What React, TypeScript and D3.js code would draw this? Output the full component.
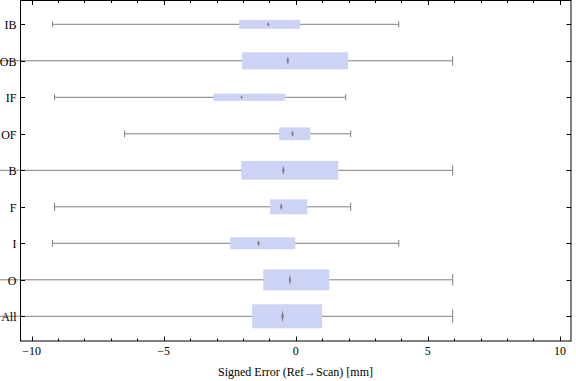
import React from "react";
import * as d3 from "d3";

const categories = ["IB", "OB", "IF", "OF", "B", "F", "I", "O", "All"];
const whiskerLow = [-9.21, -12, -9.13, -6.48, -12, -9.13, -9.21, -12, -12];
const q1 = [-2.14, -2.03, -3.12, -0.63, -2.06, -0.97, -2.48, -1.23, -1.65];
const median = [-1.04, -0.3, -2.05, -0.12, -0.47, -0.55, -1.41, -0.22, -0.5];
const q3 = [0.17, 1.98, -0.4, 0.55, 1.61, 0.44, -0.02, 1.27, 1.0];
const whiskerHigh = [3.9, 5.94, 1.89, 2.08, 5.94, 2.08, 3.9, 5.94, 5.94];
// relative box thickness (sample weight)
const boxWeight = [0.37, 0.71, 0.3, 0.53, 0.78, 0.62, 0.5, 0.87, 1.0];
const xTicks = [-10, -5, 0, 5, 10];
const xMinorTicks = d3.range(-10, 11, 1);

const W = 576;
const H = 381;
const left = 20.5;
const right = 571;
const top = 0.5;
const bottom = 341;

export default function App() {
  const x = d3.scaleLinear().domain([-10.42, 10.42]).range([left, right]);
  const y = d3.scalePoint<string>().domain(categories).range([24.3, 316.3]);
  const thick = d3.scaleLinear().domain([0, 1]).range([0, 24]);
  const fmt = d3.format("d");
  const font = "'Liberation Serif', 'Times New Roman', serif";

  return (
    <svg
      width={W}
      height={H}
      style={{ position: "absolute", left: 0, top: 0, background: "#fff" }}
      fontFamily={font}
    >
      {categories.map((c, i) => {
        const cy = y(c)!;
        const h = thick(boxWeight[i]);
        const cap = Math.max(6, h * 0.55);
        const mx = x(median[i]);
        const mh = h * 0.5;
        return (
          <g key={c}>
            <line x1={x(whiskerLow[i])} x2={x(whiskerHigh[i])} y1={cy} y2={cy} stroke="#808080" strokeWidth={1} />
            {whiskerLow[i] > -10.42 && (
              <line x1={x(whiskerLow[i])} x2={x(whiskerLow[i])} y1={cy - cap / 2} y2={cy + cap / 2} stroke="#808080" strokeWidth={1} />
            )}
            <line x1={x(whiskerHigh[i])} x2={x(whiskerHigh[i])} y1={cy - cap / 2} y2={cy + cap / 2} stroke="#808080" strokeWidth={1} />
            <rect x={x(q1[i])} width={x(q3[i]) - x(q1[i])} y={cy - h / 2} height={h} fill="#ccd3f4" />
            <path
              d={`M${mx},${cy - mh / 2}L${mx + 1.2},${cy}L${mx},${cy + mh / 2}L${mx - 1.2},${cy}Z`}
              fill="#707070"
              opacity={0.85}
            />
          </g>
        );
      })}
      <rect x={left} y={top} width={right - left} height={bottom - top} fill="none" stroke="#000" strokeWidth={1} />
      {xMinorTicks.map((t) => {
        const major = xTicks.includes(t);
        const len = major ? 4.5 : 2.5;
        const tx = Math.round(x(t)) + 0.5;
        return (
          <g key={"xt" + t}>
            <line x1={tx} x2={tx} y1={bottom} y2={bottom - len} stroke="#000" />
            <line x1={tx} x2={tx} y1={top} y2={top + len} stroke="#000" />
          </g>
        );
      })}
      {xTicks.map((t) => (
        <text key={"xl" + t} x={x(t)} y={355} textAnchor="middle" fontSize={12}>
          {fmt(t)}
        </text>
      ))}
      {categories.map((c) => {
        const cy = Math.round(y(c)!) + 0.5;
        return (
          <g key={"yt" + c}>
            <line x1={left} x2={left + 4.5} y1={cy} y2={cy} stroke="#000" />
            <line x1={right} x2={right - 4.5} y1={cy} y2={cy} stroke="#000" />
            <text x={16.5} y={cy + 4} textAnchor="end" fontSize={12}>
              {c}
            </text>
          </g>
        );
      })}
      <text x={295.5} y={375.5} textAnchor="middle" fontSize={12}>
        Signed Error (Ref→Scan) [mm]
      </text>
    </svg>
  );
}
